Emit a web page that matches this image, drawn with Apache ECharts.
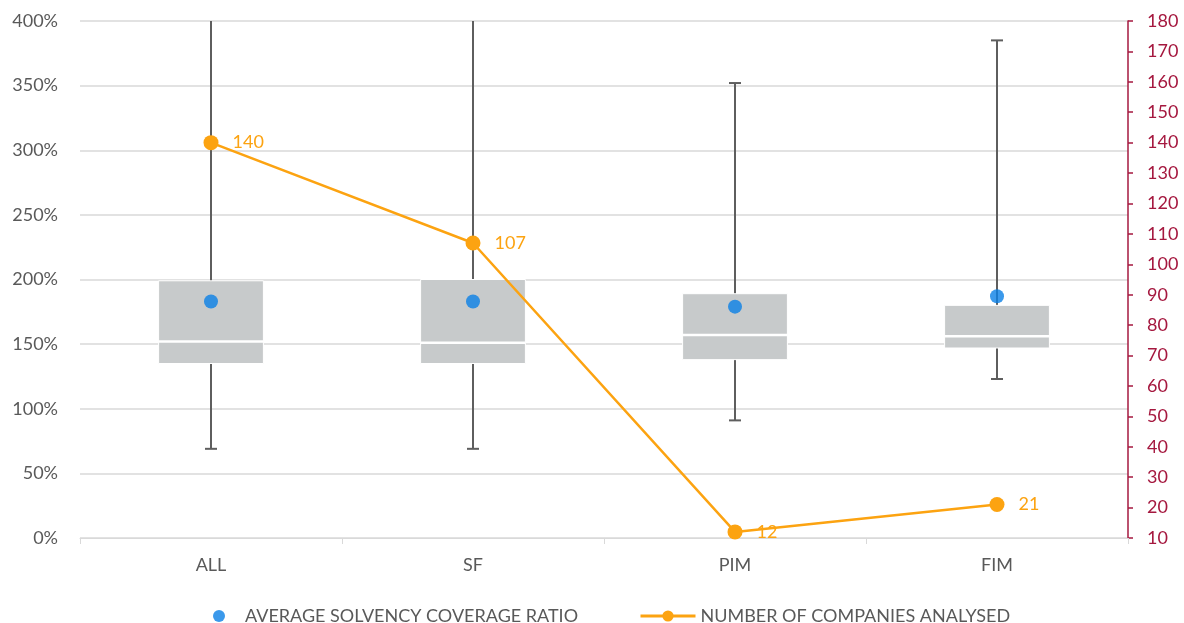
<!DOCTYPE html>
<html>
<head>
<meta charset="utf-8">
<script src="https://cdn.jsdelivr.net/npm/echarts@6/dist/echarts.min.js"></script>
<style>
  html, body { margin: 0; padding: 0; background: #fff; }
  #chart { width: 1184px; height: 623px; }
</style>
</head>
<body>
<div id="chart"></div>
<script>
// Solvency coverage ratio distribution per calculation approach (in %)
const categories = ['ALL', 'SF', 'PIM', 'FIM'];
const minValues = [69, 69, 91, 123];
const q1Values = [135, 135, 138, 147];
const medianValues = [152, 151, 157, 156];
const q3Values = [199, 200, 189, 180];
const maxValues = [460, 460, 352, 385];
const meanValues = [183, 183, 179, 187];
// Number of companies in each group (right axis)
const companyCounts = [140, 107, 12, 21];

const leftTicks = { min: 0, max: 400, interval: 50 };
const rightTicks = { min: 10, max: 180, interval: 10 };

const GRAY_TEXT = '#595959';
const AXIS_RED = '#a5183f';
const ORANGE = '#fca311';
const BLUE = '#0a80e6';
const BOX_FILL = '#c7cacb';
const WHISKER = '#5e5e5e';
const FONT = 'Lato, "Open Sans", sans-serif';
const FONT_SIZE = 18;

const boxData = categories.map((c, i) => [i, minValues[i], q1Values[i], medianValues[i], q3Values[i], maxValues[i]]);

// Box with whiskers: grey quartile box, white median, dark whiskers clipped to the plot area
function renderBox(params, api) {
  const idx = api.value(0);
  const cs = params.coordSys;
  const top = cs.y, bottom = cs.y + cs.height;
  const clampY = y => Math.max(top, Math.min(bottom, y));
  const pMin = api.coord([idx, api.value(1)]);
  const pQ1 = api.coord([idx, api.value(2)]);
  const pMed = api.coord([idx, api.value(3)]);
  const pQ3 = api.coord([idx, api.value(4)]);
  const pMax = api.coord([idx, api.value(5)]);
  const x = pMin[0];
  const boxW = api.size([1, 0])[0] * 0.4;
  const capW = 12;
  const children = [];
  const lineStyle = { stroke: WHISKER, lineWidth: 2 };
  children.push({ type: 'line', shape: { x1: x, y1: clampY(pMin[1]), x2: x, y2: clampY(pMax[1]) }, style: lineStyle });
  if (pMin[1] <= bottom && pMin[1] >= top) {
    children.push({ type: 'line', shape: { x1: x - capW / 2, y1: pMin[1], x2: x + capW / 2, y2: pMin[1] }, style: lineStyle });
  }
  if (pMax[1] >= top && pMax[1] <= bottom) {
    children.push({ type: 'line', shape: { x1: x - capW / 2, y1: pMax[1], x2: x + capW / 2, y2: pMax[1] }, style: lineStyle });
  }
  children.push({
    type: 'rect',
    shape: { x: x - boxW / 2, y: pQ3[1], width: boxW, height: pQ1[1] - pQ3[1] },
    style: { fill: BOX_FILL, stroke: '#ffffff', lineWidth: 1 }
  });
  children.push({
    type: 'line',
    shape: { x1: x - boxW / 2, y1: pMed[1], x2: x + boxW / 2, y2: pMed[1] },
    style: { stroke: '#ffffff', lineWidth: 2.5 }
  });
  return { type: 'group', children };
}

const chart = echarts.init(document.getElementById('chart'), null, { renderer: 'canvas' });
chart.setOption({
  animation: false,
  backgroundColor: '#ffffff',
  textStyle: { fontFamily: FONT },
  grid: { left: 80, right: 56, top: 21, bottom: 85 },
  legend: [
    {
      data: [{ name: 'AVERAGE SOLVENCY COVERAGE RATIO', icon: 'circle' }],
      left: 208, top: 602,
      itemWidth: 42, itemHeight: 12,
      textStyle: { color: GRAY_TEXT, fontSize: FONT_SIZE, fontFamily: FONT },
      selectedMode: false
    },
    {
      data: ['NUMBER OF COMPANIES ANALYSED'],
      left: 634, top: 602,
      itemWidth: 55, itemHeight: 14,
      lineStyle: { width: 3 },
      textStyle: { color: GRAY_TEXT, fontSize: FONT_SIZE, fontFamily: FONT },
      selectedMode: false
    }
  ],
  xAxis: {
    type: 'category',
    data: categories,
    boundaryGap: true,
    axisLine: { lineStyle: { color: '#d9d9d9', width: 1 } },
    axisTick: { show: true, length: 6, lineStyle: { color: '#d9d9d9' } },
    axisLabel: { color: GRAY_TEXT, fontSize: FONT_SIZE, margin: 18, fontFamily: FONT },
    splitLine: { show: false }
  },
  yAxis: [
    {
      type: 'value',
      min: leftTicks.min, max: leftTicks.max, interval: leftTicks.interval,
      axisLine: { show: false },
      axisTick: { show: false },
      axisLabel: { formatter: '{value}%', color: GRAY_TEXT, fontSize: FONT_SIZE, margin: 22, fontFamily: FONT },
      splitLine: { lineStyle: { color: '#d9d9d9', width: 1.5 } }
    },
    {
      type: 'value',
      position: 'right',
      min: rightTicks.min, max: rightTicks.max, interval: rightTicks.interval,
      axisLine: { show: true, lineStyle: { color: AXIS_RED, width: 1.5 } },
      axisTick: { show: true, inside: false, length: 5, lineStyle: { color: AXIS_RED, width: 1.5 } },
      axisLabel: { color: AXIS_RED, fontSize: FONT_SIZE, margin: 19, fontFamily: FONT },
      splitLine: { show: false }
    }
  ],
  series: [
    {
      name: 'distribution',
      type: 'custom',
      renderItem: renderBox,
      data: boxData,
      encode: { x: 0, y: [1, 2, 3, 4, 5] },
      yAxisIndex: 0,
      z: 2
    },
    {
      name: 'AVERAGE SOLVENCY COVERAGE RATIO',
      type: 'scatter',
      data: meanValues,
      yAxisIndex: 0,
      symbol: 'circle',
      symbolSize: 14,
      itemStyle: { color: BLUE },
      z: 4
    },
    {
      name: 'NUMBER OF COMPANIES ANALYSED',
      type: 'line',
      data: companyCounts,
      yAxisIndex: 1,
      symbol: 'circle',
      symbolSize: 15,
      lineStyle: { color: ORANGE, width: 2.5 },
      itemStyle: { color: ORANGE },
      label: {
        show: true,
        position: 'right',
        distance: 14,
        color: ORANGE,
        fontSize: FONT_SIZE,
        fontFamily: FONT
      },
      z: 5
    }
  ]
});
</script>
</body>
</html>
